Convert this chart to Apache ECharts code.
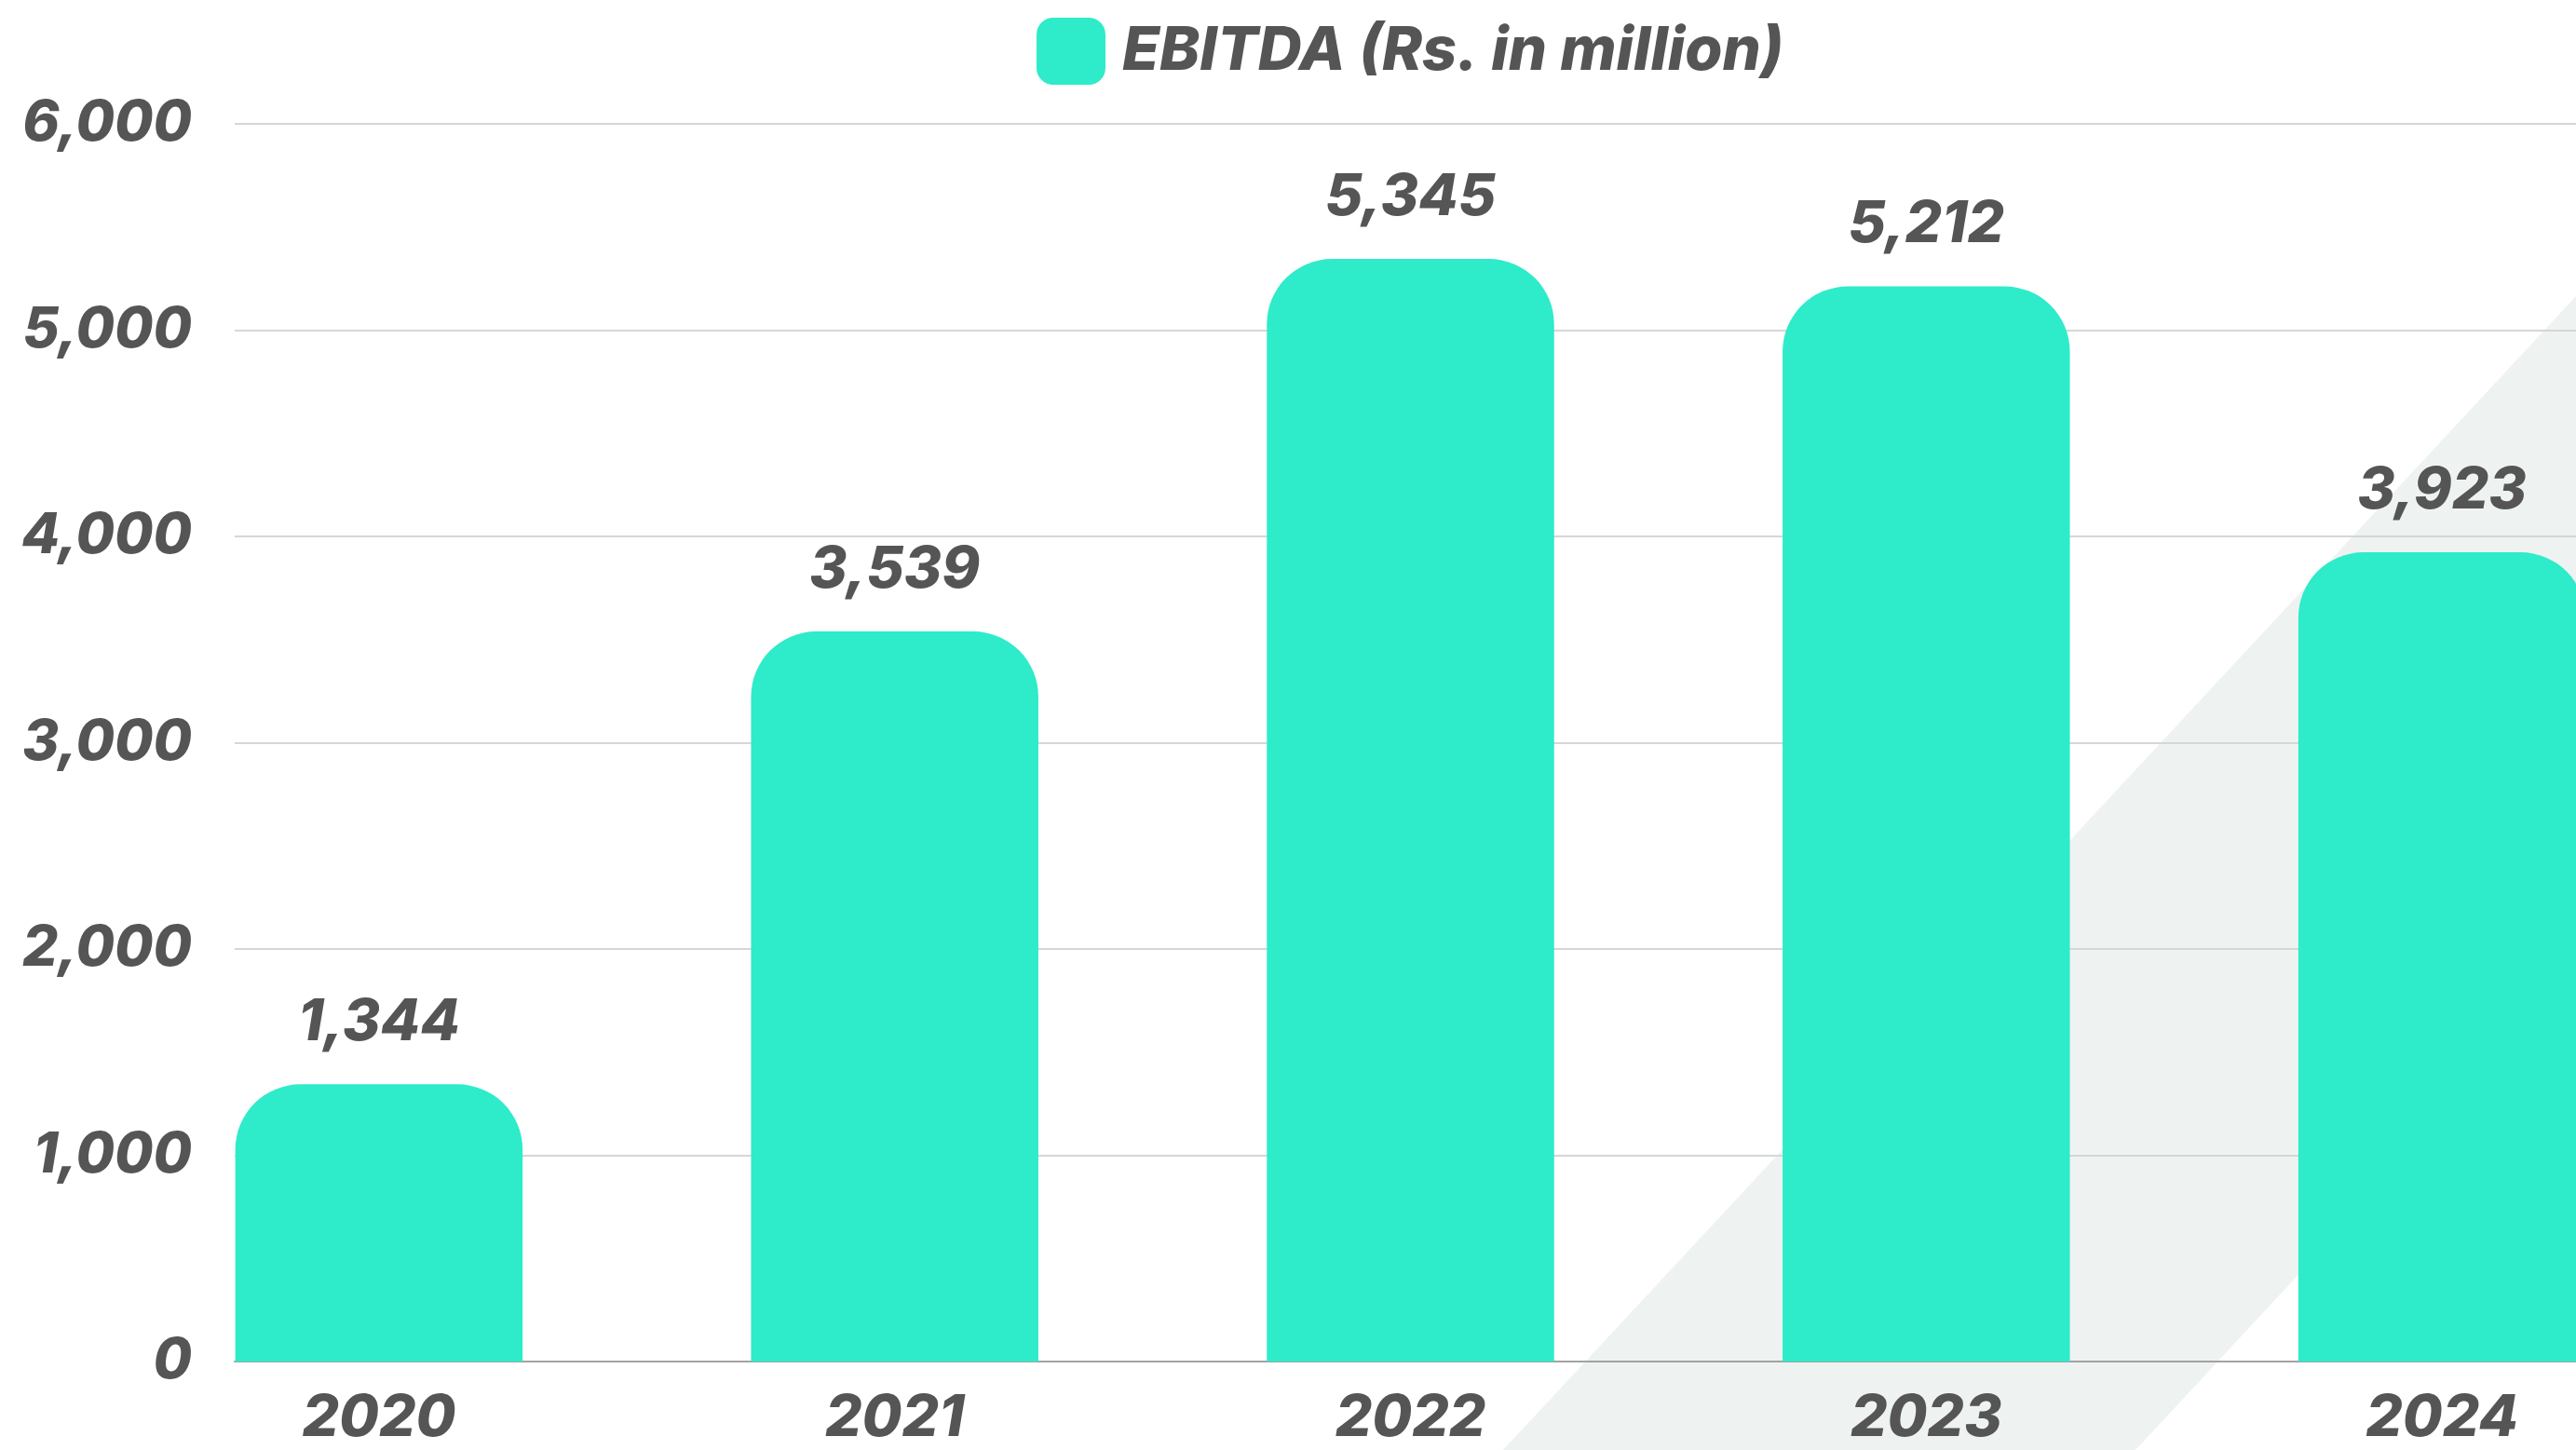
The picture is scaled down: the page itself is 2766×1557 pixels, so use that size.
<!DOCTYPE html>
<html>
<head>
<meta charset="utf-8">
<style>
html,body{margin:0;padding:0;background:#ffffff;}
#chart{width:2766px;height:1557px;}
</style>
<script src="https://cdn.jsdelivr.net/npm/echarts@6/dist/echarts.min.js"></script>
</head>
<body>
<div id="chart"></div>
<script>
const categories = ['2020', '2021', '2022', '2023', '2024'];
const ebitda = [1344, 3539, 5345, 5212, 3923];
const seriesName = 'EBITDA (Rs. in million)';
const yTicks = [0, 1000, 2000, 3000, 4000, 5000, 6000];

const FONT = 'Inter';
const TXT = '#555555';
const chart = echarts.init(document.getElementById('chart'));
const txt = {fontFamily: FONT, fontWeight: 800, fontStyle: 'italic', color: TXT, fontSize: 62};

chart.setOption({
  backgroundColor: '#ffffff',
  animation: false,
  graphic: [{
    type: 'polygon', z: -10, silent: true,
    shape: {points: [[1614, 1557], [2766, 318], [2766, 1048], [2293, 1557]]},
    style: {fill: '#eef3f1'}
  }],
  legend: {
    left: 1108, top: 14,
    itemWidth: 74, itemHeight: 72,
    icon: 'roundRect',
    data: [seriesName],
    textStyle: Object.assign({}, txt, {fontSize: 65, padding: [0, 0, 0, 13]})
  },
  grid: [
    {left: 130, width: 2769, top: 133, bottom: 95, containLabel: false, outerBoundsMode: 'none'},
    {left: 252, right: 0, top: 133, bottom: 95, containLabel: false, outerBoundsMode: 'none'}
  ],
  xAxis: [
    {type: 'category', gridIndex: 0, data: categories,
     axisLine: {show: false}, axisTick: {show: false},
     axisLabel: Object.assign({}, txt, {margin: 30})},
    {type: 'value', gridIndex: 1, min: 0, max: 1,
     axisLine: {show: true, lineStyle: {color: '#a3a3a3', width: 2}},
     axisTick: {show: false}, axisLabel: {show: false}, splitLine: {show: false}}
  ],
  yAxis: [
    {type: 'value', gridIndex: 0, min: yTicks[0], max: yTicks[yTicks.length - 1], interval: 1000, show: false},
    {type: 'value', gridIndex: 1, min: yTicks[0], max: yTicks[yTicks.length - 1], interval: 1000,
     axisLine: {show: false}, axisTick: {show: false},
     splitLine: {lineStyle: {color: '#d6d6d6', width: 2}},
     axisLabel: Object.assign({}, txt, {fontSize: 60, margin: 46, formatter: v => v.toLocaleString('en-US')})}
  ],
  series: [{
    name: seriesName, type: 'bar', xAxisIndex: 0, yAxisIndex: 0,
    data: ebitda, barWidth: '55.7%',
    itemStyle: {color: '#2eebca', borderRadius: [70, 70, 0, 0]},
    label: Object.assign({show: true, position: 'top', distance: 35,
      formatter: p => p.value.toLocaleString('en-US')}, txt)
  }]
});
</script>
</body>
</html>
